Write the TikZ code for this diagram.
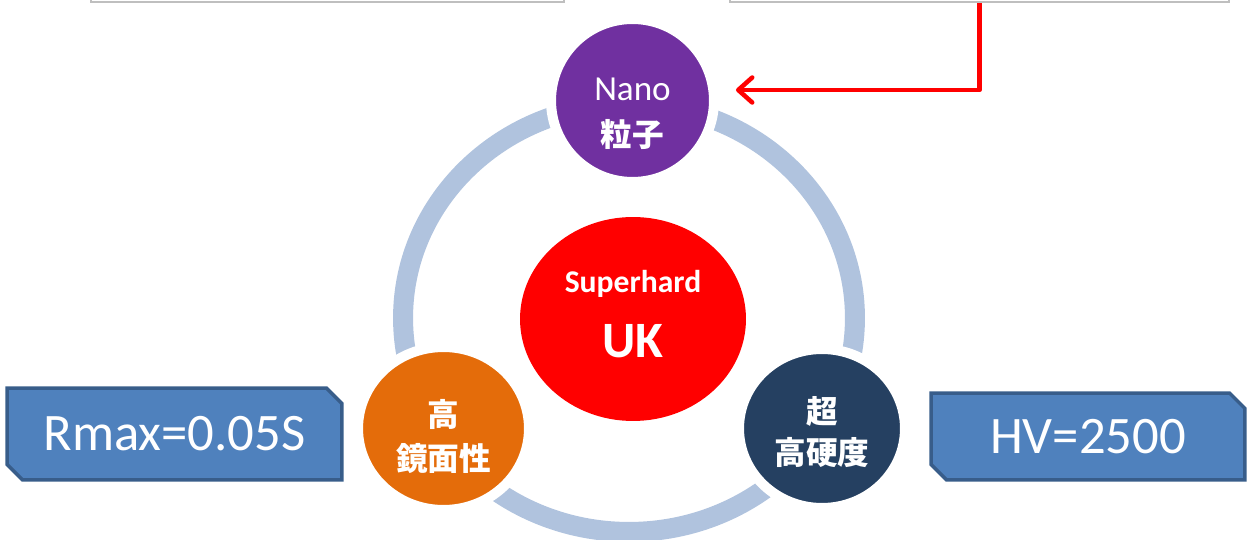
\documentclass[tikz,border=0pt]{standalone}
\usepackage{fontspec}
\setmainfont{Carlito}
\newfontfamily\cjk{Noto Sans CJK JP}
\usepackage{xcolor}
\usetikzlibrary{shapes.geometric,shapes.misc,arrows.meta}
\definecolor{ringblue}{RGB}{176,195,222}
\definecolor{nanopurple}{RGB}{112,48,160}
\definecolor{mirrororange}{RGB}{228,108,10}
\definecolor{hardnavy}{RGB}{37,64,97}
\definecolor{valuefill}{RGB}{79,129,189}
\definecolor{valueline}{RGB}{56,93,138}
\definecolor{panelgray}{RGB}{191,191,191}

\begin{document}
\begin{tikzpicture}[x=0.02cm, y=-0.02cm,
        bubble/.style = {ellipse, draw=white, line width=0.2cm, inner sep=0pt},
        caption/.style = {text=white, align=center, inner sep=0pt},
        value/.style = {chamfered rectangle, chamfered rectangle corners={north east,south west},
            chamfered rectangle xsep=0.16cm, chamfered rectangle ysep=0.15cm, inner sep=0pt,
            fill=valuefill, draw=valueline, line width=0.07cm, text=white,
            font=\fontsize{30}{35}\selectfont},
        panel/.style = {rectangle, draw=panelgray, line width=0.05cm, fill=white, minimum height=2cm},
        feed/.style = {red, line width=0.09cm, line join=round,
            -{Straight Barb[length=0.28cm,width=0.5cm,round]}}
    ]
        \path[use as bounding box, clip] (0,0) rectangle (1247,540);
        \node[panel, minimum width=9.46cm] (leftpanel) at (327.5,-48) {};
        \node[panel, minimum width=9.98cm] (rightpanel) at (979.5,-48) {};
        \draw[ringblue, line width=0.4cm] (629,318) ellipse [x radius=4.52cm, y radius=4.28cm];
        \node[bubble, draw=none, fill=red, minimum width=4.52cm, minimum height=4.08cm] (core) at (633,319) {};
        \node[bubble, fill=nanopurple, minimum width=3.26cm, minimum height=3.26cm] (nano) at (632.5,100.5) {};
        \node[bubble, fill=mirrororange, minimum width=3.42cm, minimum height=3.26cm] (mirror) at (443.5,428.5) {};
        \node[bubble, fill=hardnavy, minimum width=3.32cm, minimum height=3.18cm] (hard) at (822,428.5) {};
        \node[caption, font=\bfseries\fontsize{29}{37.4}\selectfont] (coretext) at (633,314)
            {{\fontsize{18}{18}\selectfont Superhard}\\UK};
        \node[caption, font=\cjk\bfseries\fontsize{18}{26}\selectfont] (nanotext) at (632.5,114)
            {{\rmfamily\mdseries\fontsize{20}{20}\selectfont Nano}\\粒子};
        \node[caption, font=\cjk\bfseries\fontsize{18}{25.5}\selectfont] (mirrortext) at (443.5,436.5)
            {高\\鏡面性};
        \node[caption, font=\cjk\bfseries\fontsize{18}{23.5}\selectfont] (hardtext) at (822,432)
            {超\\高硬度};
        \node[value, minimum width=6.7cm, minimum height=1.84cm] (rmax) at (174.5,434) {Rmax=0.05S};
        \node[value, minimum width=6.28cm, minimum height=1.74cm] (hv) at (1088,436.5) {HV=2500};
        \draw[feed, shorten >=0.34cm] (rightpanel.south) |- ([yshift=0.21cm]nano.east);
    \end{tikzpicture}
\end{document}
